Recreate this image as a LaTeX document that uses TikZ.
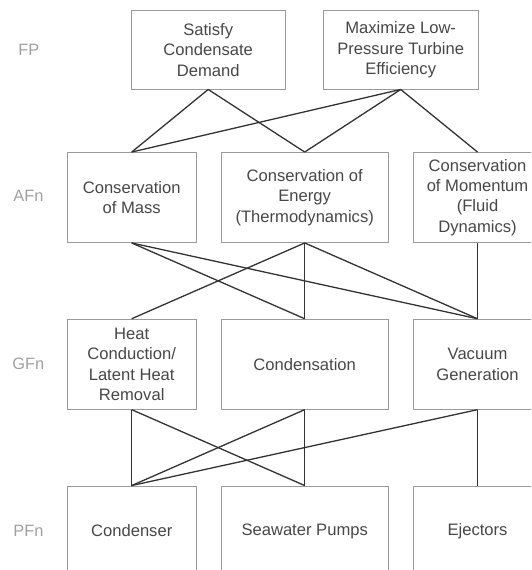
\documentclass[tikz,border=0pt]{standalone}
\usepackage{fontspec}
\setmainfont{Liberation Sans}
\definecolor{boxline}{HTML}{9A9A9A}
\definecolor{conn}{HTML}{333333}
\definecolor{txt}{HTML}{474747}
\definecolor{lbl}{HTML}{A0A0A0}
\begin{document}
\begin{tikzpicture}[x=1pt,y=-1pt,
  fbox/.style={draw=boxline,line width=0.9pt,inner sep=0pt,align=center,text=txt,
    font=\fontsize{16.6}{20.4}\selectfont,minimum height=90pt},
  lvl/.style={text=lbl,font=\fontsize{16.4}{20}\selectfont,inner sep=0pt},
  link/.style={draw=conn,line width=1.3pt}]
\useasboundingbox (0,0) rectangle (531,570);
\clip (0,0) rectangle (531,570);
% level labels
\node[lvl] (lfp) at (28.8,50) {FP};
\node[lvl] (laf) at (28.4,195.5) {AFn};
\node[lvl] (lgf) at (28.4,364) {GFn};
\node[lvl] (lpf) at (28.4,530.6) {PFn};
% FP
\node[fbox,minimum width=154.5pt,minimum height=78.2pt] (fp1) at (208.2,49.9) {Satisfy\\Condensate\\Demand};
\node[fbox,minimum width=155.5pt,minimum height=78.2pt] (fp2) at (400.7,49.9) {Maximize Low-\\Pressure Turbine\\Efficiency};
% AFn
\node[fbox,minimum width=128.6pt] (a1) at (131.7,197.5) {Conservation\\of Mass};
\node[fbox,minimum width=167.4pt] (a2) at (304.7,197.5) {Conservation of\\Energy\\(Thermodynamics)};
\node[fbox,minimum width=129pt] (a3) at (477.5,197.5) {Conservation\\of Momentum\\(Fluid\\Dynamics)};
% GFn
\node[fbox,minimum width=128.6pt] (g1) at (131.7,364.2) {Heat\\Conduction/\\Latent Heat\\Removal};
\node[fbox,minimum width=167.4pt] (g2) at (304.7,364.2) {Condensation};
\node[fbox,minimum width=129pt] (g3) at (477.5,364.2) {Vacuum\\Generation};
% PFn
\node[fbox,minimum width=128.6pt] (p1) at (131.7,531) {Condenser};
\node[fbox,minimum width=167.4pt] (p2) at (304.7,531) {Seawater Pumps};
\node[fbox,minimum width=129pt] (p3) at (477.5,531) {Ejectors};
% connectors FP -> AFn
\draw[link] (fp1.south) -- (a1.north);
\draw[link] (fp1.south) -- (a2.north);
\draw[link] (fp2.south) -- (a1.north);
\draw[link] (fp2.south) -- (a2.north);
\draw[link] (fp2.south) -- (a3.north);
% AFn -> GFn
\draw[link] (a1.south) -- (g2.north);
\draw[link] (a1.south) -- (g3.north);
\draw[link] (a2.south) -- (g1.north);
\draw[link] (a2.south) -- (g2.north);
\draw[link] (a2.south) -- (g3.north);
\draw[link] (a3.south) -- (g3.north);
% GFn -> PFn
\draw[link] (g1.south) -- (p1.north);
\draw[link] (g1.south) -- (p2.north);
\draw[link] (g2.south) -- (p1.north);
\draw[link] (g2.south) -- (p2.north);
\draw[link] (g3.south) -- (p1.north);
\draw[link] (g3.south) -- (p3.north);
\end{tikzpicture}
\end{document}
